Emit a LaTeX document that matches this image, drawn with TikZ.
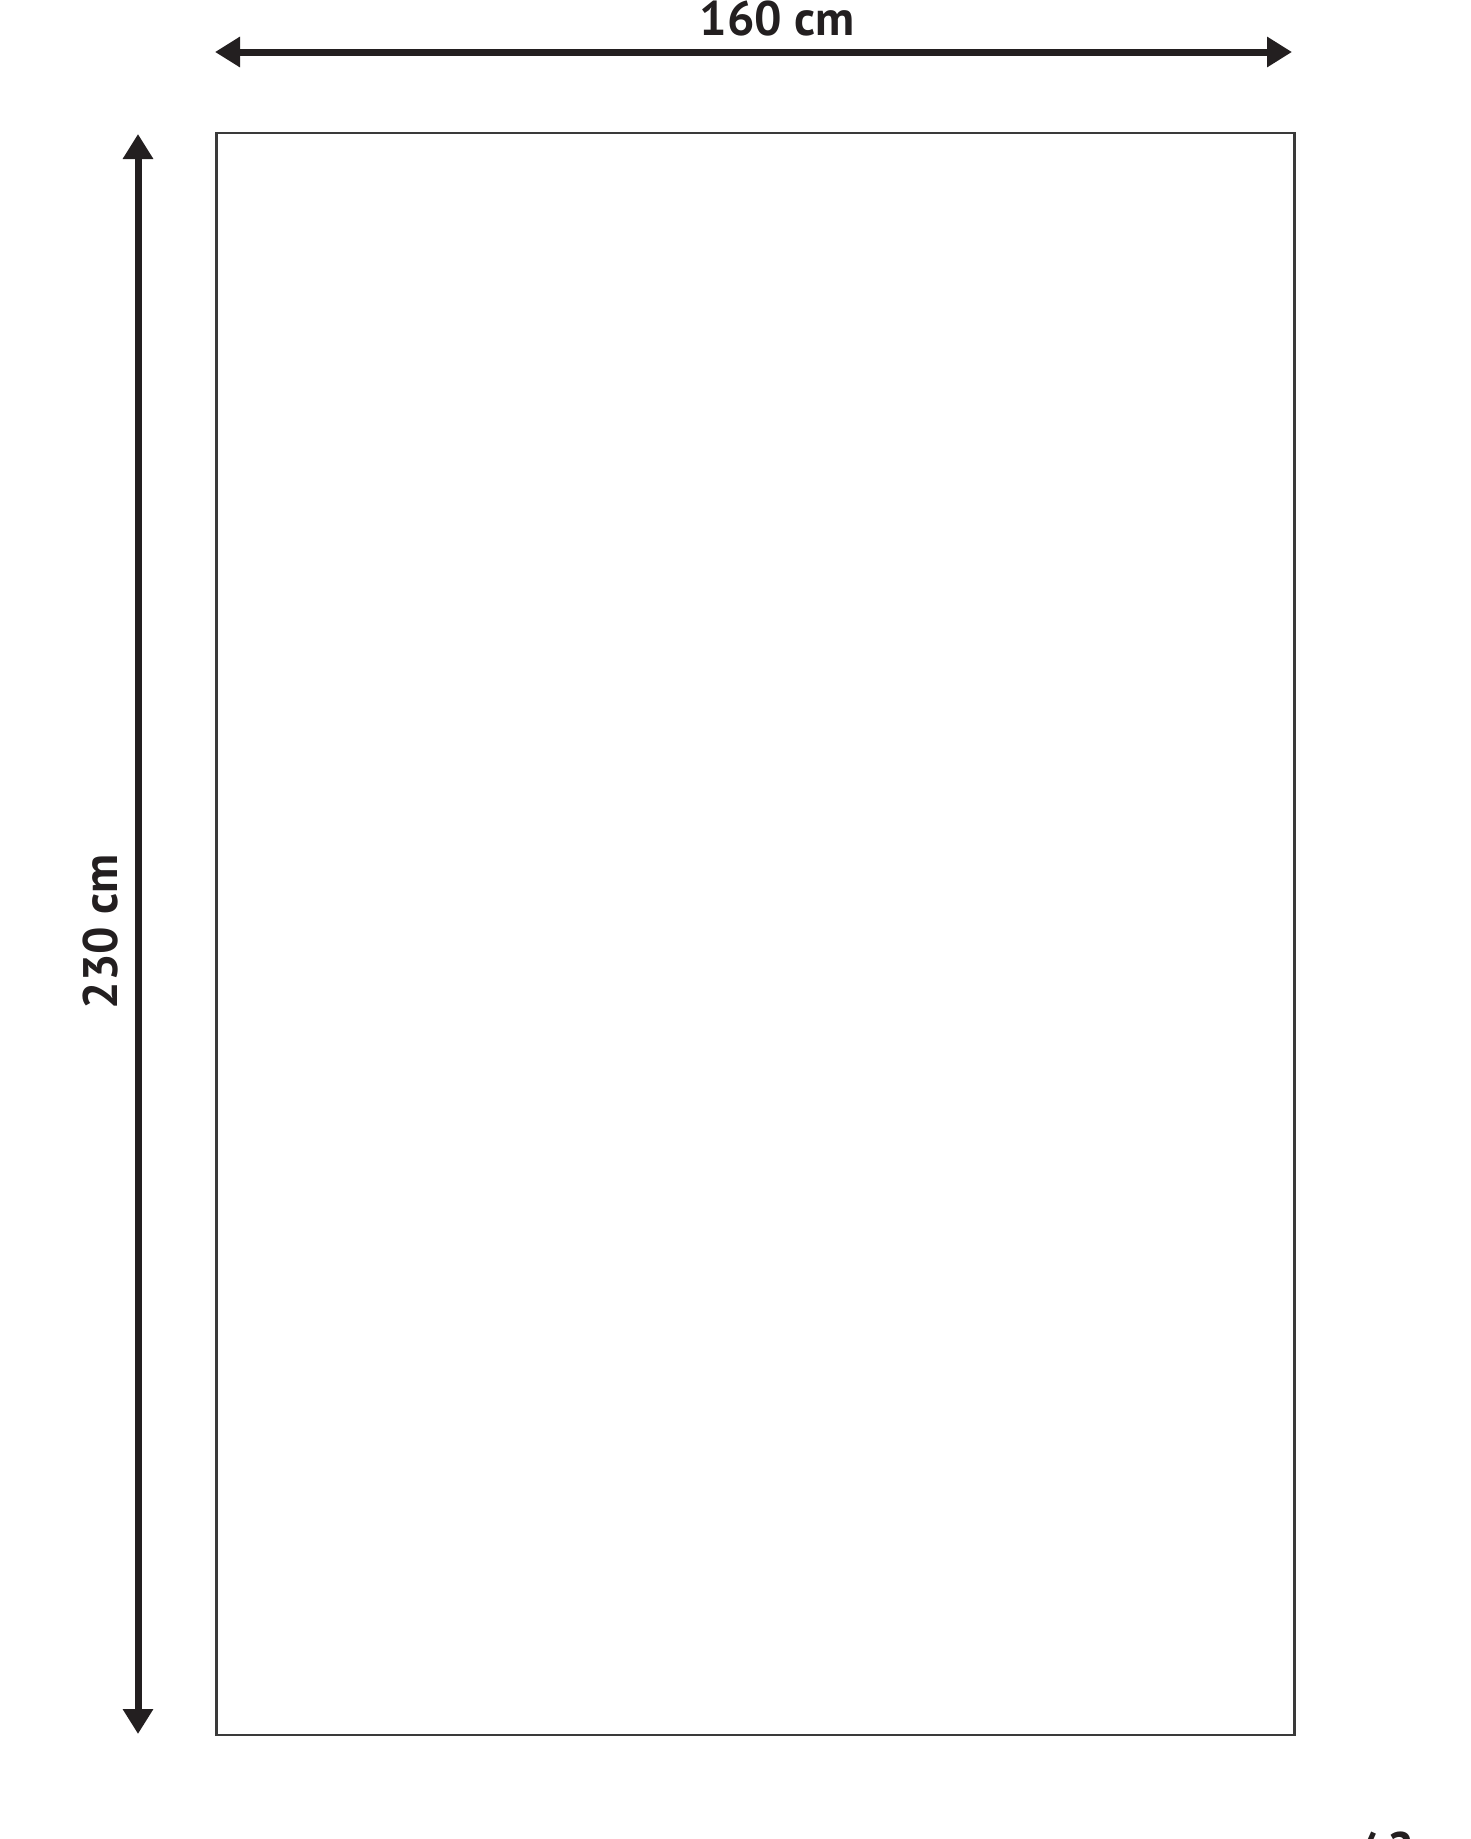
\documentclass[tikz,border=0pt]{standalone}
\usepackage{fontspec}
\setmainfont{PT Sans}
\usetikzlibrary{arrows.meta}
\definecolor{dimblack}{HTML}{231F20}
\definecolor{rimgray}{HTML}{3A3A3A}

\begin{document}
\begin{tikzpicture}[x=1pt, y=-1pt,
	dimline/.style={line width=7pt, color=dimblack, {Triangle[length=25pt, width=29pt]}-{Triangle[length=25pt, width=29pt]}},
	dimlabel/.style={font=\bfseries\fontsize{48.5}{52}\selectfont, text=dimblack, inner sep=0pt}]
	% page
	\useasboundingbox (0,0) rectangle (1470,1839);

	% rug outline
	\draw[line width=2.5pt, rimgray] (216.5,133) rectangle (1294.5,1735);

	% width
	\coordinate (wleft) at (215,52);
	\coordinate (wright) at (1292,52);
	\draw[dimline] (wleft) -- (wright);
	\node[dimlabel] (wlabel) at (777,19) {160 cm};

	% length
	\coordinate (ltop) at (138,134);
	\coordinate (lbottom) at (138,1734);
	\draw[dimline] (ltop) -- (lbottom);
	\node[dimlabel, rotate=90] (llabel) at (101,932) {230 cm};

	% page number, cut off at the bottom
	\node[dimlabel, anchor=base west] (pagenr) at (1355,1866) {/ 2};
\end{tikzpicture}
\end{document}
